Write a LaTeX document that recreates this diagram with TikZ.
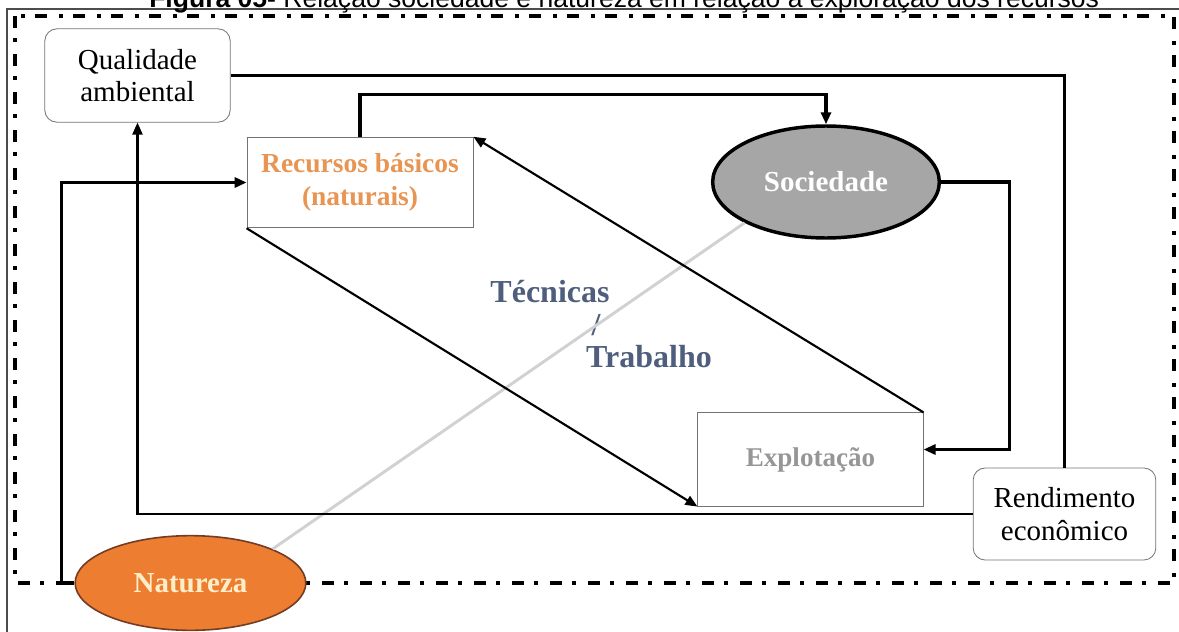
\documentclass[tikz,border=0pt]{standalone}
\usepackage{fontspec}
\setmainfont{Liberation Serif}
\newfontfamily\titlefont{Liberation Sans}
\usetikzlibrary{arrows.meta,shapes.geometric}
\definecolor{natorange}{RGB}{237,125,49}
\definecolor{natborder}{RGB}{115,60,35}
\definecolor{nattext}{RGB}{255,238,200}
\definecolor{socgray}{RGB}{166,166,166}
\definecolor{recorange}{RGB}{232,148,82}
\definecolor{explgray}{RGB}{150,150,150}
\definecolor{tecblue}{RGB}{78,94,124}

\begin{document}
\begin{tikzpicture}[x=0.75pt,y=-0.75pt,
    box/.style={draw=black!55,line width=0.6pt,inner sep=0pt,align=center},
    rbox/.style={box,rounded corners=9pt,font=\fontsize{21.75}{24.5}\selectfont},
    oval/.style={ellipse,inner sep=0pt,font=\bfseries\fontsize{21.75}{24}\selectfont},
    link/.style={line width=2.3pt},
    thinlink/.style={line width=1.6pt},
    tip/.style={-{Triangle[length=9pt,width=7.5pt]}},
    tec/.style={text=tecblue,font=\bfseries\fontsize{24}{26}\selectfont,inner sep=0pt}]
    \useasboundingbox (0,0) rectangle (1179,632);
    % frames
    \draw[black!70,line width=0.8pt] (7,700) -- (7,9) -- (1250,9);
    \draw[line width=2.8pt,dash pattern=on 9pt off 7.5pt on 3pt off 9pt] (15,16) rectangle (1174,583);
    \node[anchor=base west,inner sep=0pt,font=\titlefont\fontsize{19.9}{22}\selectfont] (title) at (149,7)
        {\textbf{Figura 05-} Relação sociedade e natureza em relação à exploração dos recursos};
    % nodes
    \node[rbox,minimum width=139pt,minimum height=70pt] (qual) at (137.5,75.5) {Qualidade\\ambiental};
    \node[box,minimum width=169.5pt,minimum height=68pt,text=recorange,
        font=\bfseries\fontsize{20.6}{24.75}\selectfont] (rec) at (360,182.5) {Recursos básicos\\(naturais)};
    \node[oval,draw=black,line width=2.6pt,fill=socgray,text=white,
        minimum width=170pt,minimum height=84pt] (soc) at (826,182) {Sociedade};
    \node[box,minimum width=169pt,minimum height=70pt,text=explgray,
        font=\bfseries\fontsize{20.3}{24}\selectfont] (expl) at (810.5,459.5) {Explotação};
    \node[rbox,minimum width=137pt,minimum height=69pt] (rend) at (1064.5,514) {Rendimento\\econômico};
    \node[oval,draw=natborder,line width=1.2pt,fill=natorange,text=nattext,
        minimum width=173pt,minimum height=71pt] (nat) at (190.5,583) {Natureza};
    \node[tec] (tec1) at (550,292) {Técnicas};
    \node[tec] (tec2) at (596,325) {/};
    \node[tec] (tec3) at (649,357) {Trabalho};
    % connectors
    \draw[black!18,line width=2.2pt] (nat.north east) -- (soc.south west);
    \draw[thinlink] (qual.east) -| (rend.north);
    \draw[thinlink,tip] (rend.west) -| (qual.south);
    \draw[link,tip] (nat.west) -- ++(-13,0) |- (rec.west);
    \draw[link,tip] (rec.north) -- ++(0,-42) -| (soc.north);
    \draw[link,tip] (soc.east) -- ++(68,0) |- ([yshift=7.5pt]expl.east);
    \draw[thinlink,tip] (expl.north east) -- (rec.north east);
    \draw[thinlink,tip] (rec.south west) -- (expl.south west);
\end{tikzpicture}
\end{document}
